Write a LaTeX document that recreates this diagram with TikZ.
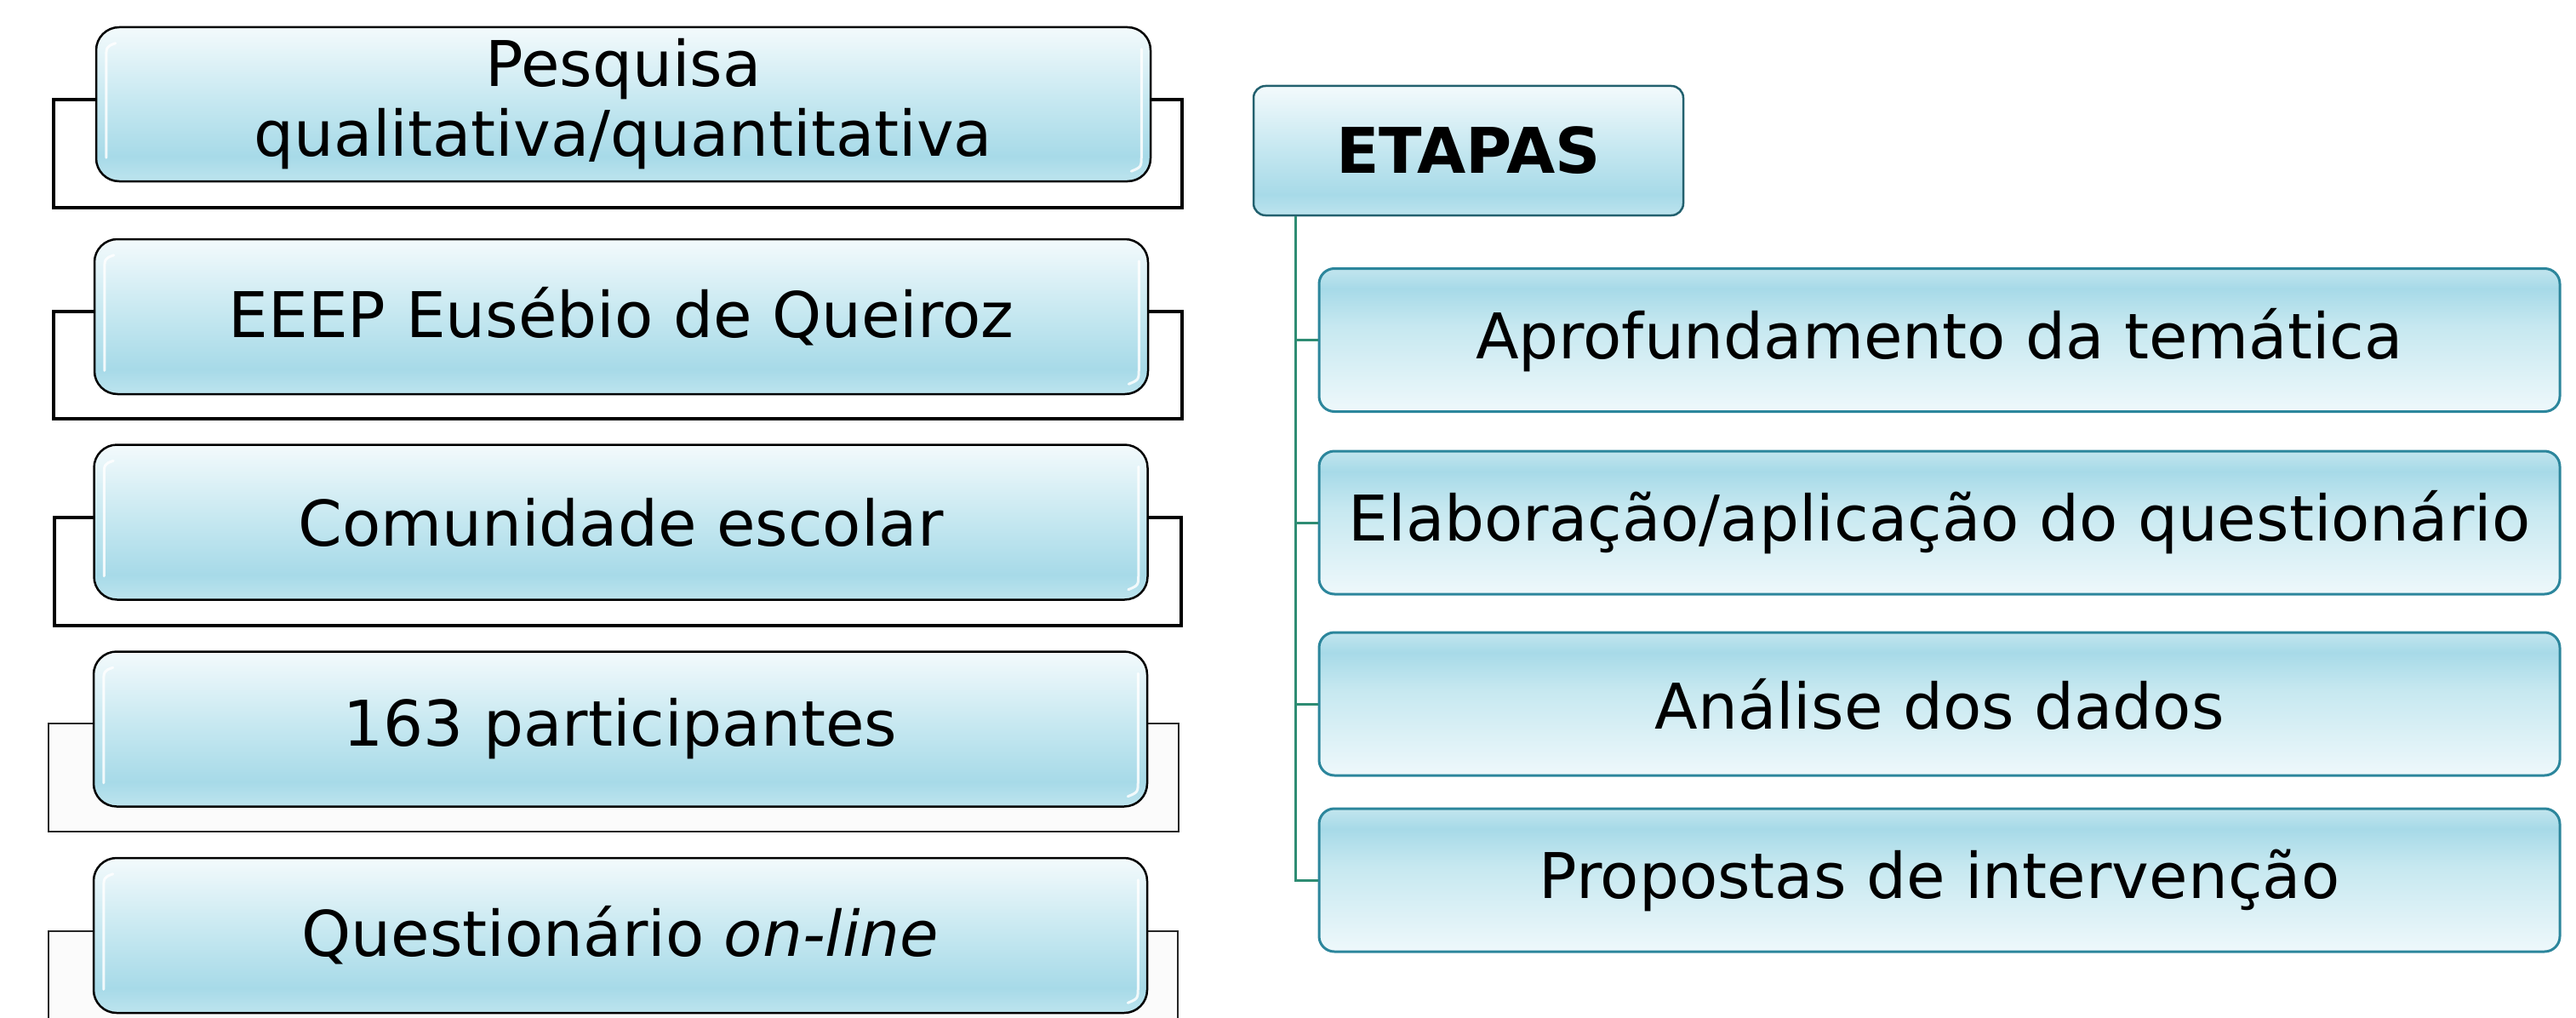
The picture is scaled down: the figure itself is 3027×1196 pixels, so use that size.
\documentclass[tikz,border=0pt]{standalone}
\usepackage{fontspec}
\setmainfont{DejaVu Sans}
\usetikzlibrary{calc}
\definecolor{lbA}{HTML}{BDE4EE}
\definecolor{lbB}{HTML}{A7DAE8}
\definecolor{lbC}{HTML}{C4E7F0}
\definecolor{lbD}{HTML}{F3FAFC}
\definecolor{rbA}{HTML}{EEF8FB}
\definecolor{rbB}{HTML}{C6E8F0}
\definecolor{rbC}{HTML}{A7DAE8}
\definecolor{rbD}{HTML}{C2E5EE}
\definecolor{tealedge}{HTML}{2C869C}
\definecolor{darkteal}{HTML}{22606E}
\definecolor{connline}{HTML}{2E8C73}
\definecolor{brkfill}{HTML}{FBFBFB}
\pgfdeclareverticalshading{glossyL}{100bp}{color(0bp)=(lbA); color(25bp)=(lbA); color(33bp)=(lbB); color(50bp)=(lbC); color(75bp)=(lbD); color(100bp)=(lbD)}
\pgfdeclareverticalshading{glossyR}{100bp}{color(0bp)=(rbA); color(25bp)=(rbA); color(55bp)=(rbB); color(68bp)=(rbC); color(75bp)=(rbD); color(100bp)=(rbD)}
\tikzset{
  txt/.style={font=\fontsize{74}{82}\selectfont, align=center, inner sep=0pt},
  lbox/.style={txt, draw=black, line width=2.5pt, rounded corners=27pt, shading=glossyL,
    minimum width=1238pt, minimum height=182pt},
  ebox/.style={txt, draw=darkteal, line width=2.5pt, rounded corners=14pt, shading=glossyL,
    minimum width=505pt, minimum height=152pt},
  rbox/.style={txt, draw=tealedge, line width=3pt, rounded corners=18pt, shading=glossyR,
    minimum width=1458pt, minimum height=168pt},
  brk/.style={draw=black, line width=3.5pt, fill=white},
  brkthin/.style={draw=black!85, line width=2pt},
  hl/.style={draw=white, line width=3pt, line cap=round, opacity=0.85},
  conn/.style={draw=connline, line width=3pt}
}
\begin{document}
\begin{tikzpicture}[x=1pt,y=-1pt]
\useasboundingbox (0,0) rectangle (3027,1196);
% brackets behind the left boxes
\draw[brk] (63,117) rectangle (1389,244);
\draw[brk] (63,366) rectangle (1389,492);
\draw[brk] (64,608) rectangle (1388,735);
\draw[brkthin, fill=brkfill] (57,850) rectangle (1385,977);
\fill[brkfill] (57,1094) rectangle (1384,1200);
\draw[brkthin] (57,1200) -- (57,1094) -- (1384,1094) -- (1384,1200);
% left boxes
\node[lbox, minimum width=1239pt, minimum height=181pt] (l1) at (732.5,122.5) {Pesquisa\\qualitativa/quantitativa};
\node[lbox] (l2) at (730,372) {EEEP Eusébio de Queiroz};
\node[lbox] (l3) at (729.5,613.5) {Comunidade escolar};
\node[lbox] (l4) at (729,856.5) {163 participantes};
\node[lbox] (l5) at (729,1099) {Questionário \textit{on-line}};
\foreach \n in {l1,l2,l3,l4,l5} {
  \draw[hl] ($(\n.north west)+(24,20)$) .. controls ($(\n.north west)+(13,24)$) .. ($(\n.north west)+(13,40)$) -- ($(\n.south west)+(13,-29)$);
  \draw[hl] ($(\n.north east)+(-12,27)$) -- ($(\n.south east)+(-12,-32)$) .. controls ($(\n.south east)+(-12,-18)$) .. ($(\n.south east)+(-24,-13)$);
}
% right side
\node[ebox] (etapas) at (1725.5,177) {\bfseries ETAPAS};
\node[rbox] (r1) at (2279,399.5) {Aprofundamento da temática};
\node[rbox] (r2) at (2279,614) {Elaboração/aplicação do questionário};
\node[rbox] (r3) at (2279,827) {Análise dos dados};
\node[rbox] (r4) at (2279,1034) {Propostas de intervenção};
\coordinate (trunk) at ($(etapas.south west)+(51,0)$);
\draw[conn] (trunk) |- (r1.west);
\draw[conn] (trunk) |- (r2.west);
\draw[conn] (trunk) |- (r3.west);
\draw[conn] (trunk) |- (r4.west);
\end{tikzpicture}
\end{document}
